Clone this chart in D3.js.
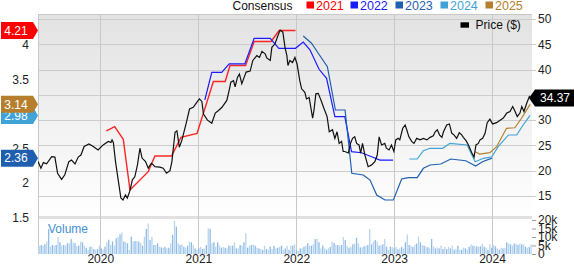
<!DOCTYPE html>
<html>
<head>
<meta charset="utf-8">
<script src="https://cdn.jsdelivr.net/npm/d3@7"></script>
<style>
  body { margin: 0; background: #fff; }
  svg { display: block; font-family: "Liberation Sans", Arial, sans-serif; }
</style>
</head>
<body>
<svg id="chart" width="574" height="265"></svg>
<script>
var parse = d3.timeParse("%Y-%m-%d");

// price ($), right axis
var priceDates = ["2019-05-14","2019-05-25","2019-06-03","2019-06-15","2019-07-04","2019-07-16","2019-07-26","2019-08-10","2019-08-22","2019-09-06","2019-09-16","2019-09-29","2019-10-11","2019-10-21","2019-11-02","2019-11-20","2019-12-06","2019-12-24",
  "2020-01-12","2020-01-31","2020-02-10","2020-02-14","2020-02-19","2020-02-27","2020-03-08","2020-03-18","2020-03-26","2020-04-04","2020-04-11","2020-04-20","2020-04-30","2020-05-09","2020-05-19","2020-05-28","2020-06-05","2020-06-18","2020-06-28","2020-07-10","2020-07-23","2020-08-10","2020-08-23","2020-09-04","2020-09-17","2020-09-24","2020-10-06","2020-10-13","2020-10-22","2020-10-31","2020-11-16","2020-11-29","2020-12-13","2020-12-26",
  "2021-01-05","2021-01-14","2021-01-20","2021-02-04","2021-02-20","2021-03-05","2021-03-17","2021-03-30","2021-04-17","2021-04-27","2021-05-02","2021-05-12","2021-05-18","2021-05-27","2021-06-03","2021-06-12","2021-06-21","2021-06-28","2021-07-13","2021-07-23","2021-08-07","2021-08-17","2021-08-26","2021-09-07","2021-09-13","2021-09-26","2021-10-02","2021-10-14","2021-10-23","2021-11-02","2021-11-12","2021-11-20","2021-11-27","2021-12-01","2021-12-08","2021-12-18","2021-12-27",
  "2022-01-04","2022-01-14","2022-01-21","2022-02-02","2022-02-08","2022-02-18","2022-03-03","2022-03-08","2022-03-15","2022-03-24","2022-04-05","2022-04-14","2022-04-26","2022-05-04","2022-05-16","2022-05-25","2022-06-02","2022-06-10","2022-06-19","2022-06-25","2022-07-01","2022-07-14","2022-07-22","2022-07-30","2022-08-07","2022-08-14","2022-08-23","2022-08-29","2022-09-05","2022-09-14","2022-09-26","2022-10-09","2022-10-21","2022-10-30","2022-11-06","2022-11-15","2022-11-27","2022-12-03","2022-12-13","2022-12-22","2022-12-31",
  "2023-01-07","2023-01-16","2023-01-22","2023-02-02","2023-02-11","2023-02-17","2023-02-25","2023-03-08","2023-03-16","2023-03-26","2023-04-08","2023-04-20","2023-05-03","2023-05-15","2023-05-27","2023-06-03","2023-06-11","2023-06-19","2023-06-28","2023-07-04","2023-07-16","2023-07-26","2023-08-04","2023-08-12","2023-08-22","2023-09-01","2023-09-10","2023-09-16","2023-09-26","2023-10-05","2023-10-17","2023-10-26","2023-11-02","2023-11-11","2023-11-17","2023-11-27","2023-12-06","2023-12-14","2023-12-24",
  "2024-01-03","2024-01-18","2024-01-31","2024-02-12","2024-02-25","2024-03-08","2024-03-18","2024-03-27","2024-04-04","2024-04-14","2024-04-21","2024-04-29","2024-05-09","2024-05-19","2024-05-25"];
var priceValues = [21.8,20.5,21.6,21.35,22.8,22.7,19.5,18.3,19.2,21.8,22.1,21.35,22.7,23.1,24.8,25.3,24.8,24.1,
  25.1,25.8,25.6,26.1,25.6,21.8,18.2,14.6,14.2,15.2,14.6,15.9,18.2,18.8,21.2,24.45,22.5,21.8,20.5,21.5,20.8,20.7,20.5,19.5,20.0,21.7,27.6,27.9,24.65,25.95,29.25,32.2,32.55,33.5,
  34.2,33.7,31.2,30.0,29.4,31.4,31.9,32.55,33.9,36.2,37.5,37.8,36.6,38.5,39.1,37.2,38.5,39.5,39.7,41.8,42.75,42.4,43.6,43.1,42.3,41.8,44.4,45.1,46.5,47.8,47.4,44.4,42.75,40.8,41.8,41.4,42.4,
  41.1,37.8,36.2,35.5,34.2,34.5,30.4,31.9,35.2,35.3,33.7,32.35,30.7,27.7,28.1,26.4,27.7,25.4,25.8,23.8,23.8,23.5,25.4,26.4,26.7,25.4,25.1,23.5,25.4,23.1,20.8,21.15,21.8,23.1,26.7,25.1,25.4,24.45,24.1,25.1,23.8,
  26.1,26.4,26.1,28.4,29.05,28.1,26.7,25.75,25.4,26.4,26.1,26.4,26.1,26.6,26.9,27.7,28.1,27.1,26.6,27.7,29.05,29.25,27.4,27.1,26.4,27.5,27.1,26.6,25.95,25.1,23.6,22.7,25.1,25.4,26.1,26.4,27.4,29.5,30.2,
  29.25,29.5,30.0,30.4,31.4,31.7,32.7,31.7,30.7,31.4,32.7,31.7,33.3,34.65,34.37];

// consensus EPS estimates, left axis
var eps2021Dates = ["2020-01-24","2020-02-24","2020-03-27","2020-04-21","2020-06-28","2020-07-23","2020-09-23","2020-10-28","2020-12-27","2021-02-26","2021-04-11","2021-04-29","2021-06-26","2021-07-28","2021-09-29","2021-10-29","2021-12-29"];
var eps2021Values = [2.754,2.816,2.633,1.899,2.164,2.391,2.391,2.662,2.717,3.471,3.471,3.703,3.703,4.051,4.051,4.21,4.21];
var eps2022Dates = ["2021-01-25","2021-02-20","2021-03-29","2021-04-26","2021-06-23","2021-07-28","2021-09-26","2021-10-28","2021-12-29","2022-01-27","2022-02-21","2022-03-27","2022-04-24","2022-05-25","2022-07-01","2022-07-26","2022-09-01","2022-10-09","2022-11-09","2022-12-28"];
var eps2022Values = [3.203,3.604,3.604,3.725,3.725,4.097,4.097,3.952,3.952,4.043,3.93,3.648,3.517,2.961,2.961,2.454,2.439,2.381,2.333,2.333];
var eps2023Dates = ["2022-01-27","2022-02-27","2022-03-24","2022-04-27","2022-05-27","2022-07-02","2022-07-27","2022-09-08","2022-10-03","2022-10-28","2022-11-28","2022-12-29","2023-01-29","2023-02-23","2023-03-28","2023-04-20","2023-05-15","2023-06-24","2023-07-31","2023-09-25","2023-11-01","2023-11-26","2024-01-01"];
var eps2023Values = [4.13,4.025,3.88,3.686,3.058,3.058,2.141,2.116,2.043,1.826,1.754,1.754,2.058,2.077,2.077,2.213,2.261,2.275,2.348,2.323,2.246,2.309,2.36];
var eps2024Dates = ["2023-02-27","2023-03-28","2023-04-20","2023-05-15","2023-07-01","2023-07-28","2023-09-30","2023-10-30","2023-11-30","2023-12-31","2024-01-24","2024-03-02","2024-04-02","2024-04-26","2024-05-22"];
var eps2024Values = [2.348,2.348,2.468,2.503,2.503,2.575,2.551,2.309,2.358,2.381,2.526,2.696,2.696,2.841,2.98];
var eps2025Dates = ["2023-10-30","2023-11-16","2023-12-24","2024-01-18","2024-02-24","2024-03-26","2024-04-20","2024-05-22"];
var eps2025Values = [2.454,2.42,2.439,2.526,2.793,2.801,2.938,3.14];

var seriesNames = ["2021","2022","2023","2024","2025"];
var seriesColors = ["#ff0000","#1a1aff","#1f5fb0","#3fa3d8","#b57f2e"];
var lastEps = [4.21, null, 2.36, 2.98, 3.14];

// weekly volume, thousands of shares
var volumeStart = "2019-05-13";
var volumeValues = [4.9,5.3,4.9,5.7,7.3,14.7,4.3,5.3,4.9,5.3,10.0,6.9,4.9,5.3,4.9,6.3,6.3,8.8,6.9,
  6.3,4.7,4.9,7.3,6.9,4.9,3.7,2.4,4.3,4.3,2.9,2.4,2.9,4.9,3.3,2.7,4.3,6.9,8.4,
  5.3,7.3,4.9,9.2,10.0,11.6,12.7,7.3,6.9,6.3,2.4,10.2,7.3,7.6,7.6,7.3,6.3,4.9,10.2,
  14.7,18.0,8.2,10.2,5.3,5.3,6.3,4.3,3.9,3.7,4.1,3.3,3.7,6.3,11.2,19.4,16.1,6.3,
  5.3,5.7,4.3,3.7,4.9,7.3,6.9,5.3,3.3,2.4,3.3,4.3,2.9,3.3,5.3,15.1,14.7,6.3,6.9,
  4.3,6.9,4.9,3.7,4.1,3.7,3.3,4.9,4.7,4.9,6.9,3.3,3.3,5.3,4.9,6.9,12.2,3.7,4.9,
  5.3,5.7,4.9,3.7,3.3,2.9,2.4,4.9,2.9,2.4,4.3,2.9,4.9,3.3,3.7,4.1,4.9,2.5,3.3,4.9,
  2.4,4.9,4.9,5.7,2.4,1.8,3.3,3.3,4.3,4.9,6.3,4.9,4.9,5.7,8.8,8.8,6.9,3.3,4.9,
  3.3,2.5,3.3,4.1,7.3,6.5,5.3,5.3,4.9,5.3,10.0,8.2,4.9,3.7,4.3,5.7,6.1,9.6,6.3,
  3.9,3.9,4.5,4.9,5.3,14.7,5.7,7.3,8.2,7.3,4.9,5.3,5.7,8.8,4.3,2.5,4.3,4.1,3.3,
  4.1,2.7,3.3,4.3,3.3,6.9,11.6,5.3,4.9,4.1,5.3,6.1,10.2,6.9,5.3,4.9,4.3,3.9,3.3,
  8.8,4.3,3.3,3.9,3.3,4.9,2.9,4.1,2.9,4.1,3.3,4.9,2.5,2.9,4.9,2.5,2.5,3.7,3.3,
  2.5,4.3,5.7,4.9,4.5,4.5,4.3,4.5,6.1,4.3,3.7,2.4,5.7,3.7,5.3,4.5,3.3,2.5,3.7,
  3.3,3.7,6.9,6.1,5.7,4.9,6.1,6.1,5.3,6.1,5.7,5.7,4.3,3.7,4.1,5.7];

var leftTicks = [1.5, 2, 2.5, 3, 3.5, 4];
var rightTicks = [15, 20, 25, 30, 35, 40, 45, 50];
var volumeTicks = [0, 5, 10, 15, 20];
var yearTicks = ["2020-01-01","2021-01-01","2022-01-01","2023-01-01","2024-01-01"];
var lastPrice = 34.37;

var plotLeft = 38, plotRight = 532, plotTop = 14, priceBottom = 218, volTop = 220, volBottom = 254;

var x = d3.scaleTime()
  .domain([parse("2019-05-14"), parse("2024-05-29")])
  .range([plotLeft, plotRight]);
var yLeft = d3.scaleLinear().domain([1.493, 4.449]).range([priceBottom, plotTop]);
var yRight = d3.scaleLinear().domain([10.65, 50.99]).range([priceBottom, plotTop]);
var yVol = d3.scaleLinear().domain([0, 20]).range([volBottom, volTop]);

var svg = d3.select("#chart");
var defs = svg.append("defs");
var grad = defs.append("linearGradient").attr("id", "bg").attr("x1", 0).attr("y1", 0).attr("x2", 0).attr("y2", 1);
grad.append("stop").attr("offset", "0%").attr("stop-color", "#e2e2e2");
grad.append("stop").attr("offset", "100%").attr("stop-color", "#ffffff");
defs.append("clipPath").attr("id", "clipPrice")
  .append("rect").attr("x", plotLeft).attr("y", plotTop).attr("width", plotRight - plotLeft).attr("height", priceBottom - plotTop);
defs.append("clipPath").attr("id", "clipVol")
  .append("rect").attr("x", plotLeft).attr("y", volTop).attr("width", plotRight - plotLeft).attr("height", volBottom - volTop);

// backgrounds
svg.append("rect").attr("x", plotLeft).attr("y", plotTop).attr("width", plotRight - plotLeft).attr("height", priceBottom - plotTop)
  .attr("fill", "url(#bg)");
svg.append("rect").attr("x", plotLeft).attr("y", 216).attr("width", plotRight - plotLeft).attr("height", 3)
  .attr("fill", "#e1e1e1");

// horizontal grid from right axis
svg.append("g").selectAll("line").data(rightTicks).enter().append("line")
  .attr("x1", plotLeft).attr("x2", plotRight + 4)
  .attr("y1", function(d) { return Math.round(yRight(d)) + 0.5; })
  .attr("y2", function(d) { return Math.round(yRight(d)) + 0.5; })
  .attr("stroke", "#cccccc");

// vertical year grid
svg.append("g").selectAll("line").data(yearTicks).enter().append("line")
  .attr("x1", function(d) { return Math.round(x(parse(d))) + 0.5; })
  .attr("x2", function(d) { return Math.round(x(parse(d))) + 0.5; })
  .attr("y1", plotTop).attr("y2", volBottom)
  .attr("stroke", "#c8c8c8");

// frame
svg.append("line").attr("x1", plotLeft).attr("x2", plotRight).attr("y1", plotTop + 0.5).attr("y2", plotTop + 0.5).attr("stroke", "#c8c8c8");
svg.append("line").attr("x1", plotLeft + 0.5).attr("x2", plotLeft + 0.5).attr("y1", plotTop).attr("y2", volBottom).attr("stroke", "#c8c8c8");

// volume bars
var volDates = d3.timeWeek.range(parse(volumeStart), parse("2024-06-30")).slice(0, volumeValues.length);
svg.append("g").attr("clip-path", "url(#clipVol)")
  .selectAll("rect").data(volumeValues).enter().append("rect")
  .attr("x", function(d, i) { return x(volDates[i]) - 0.7; })
  .attr("width", 1.3)
  .attr("y", function(d) { return yVol(d); })
  .attr("height", function(d) { return yVol(0) - yVol(d); })
  .attr("fill", function(d, i) { return i % 2 ? "#8dbbe6" : "#b9d5f0"; });

svg.append("text").attr("x", 48).attr("y", 233).attr("font-size", 12).attr("fill", "#3f8fd2").text("Volume");

// consensus lines
var epsDates = [eps2021Dates, eps2022Dates, eps2023Dates, eps2024Dates, eps2025Dates];
var epsValues = [eps2021Values, eps2022Values, eps2023Values, eps2024Values, eps2025Values];
var epsLine = d3.line()
  .x(function(d) { return x(d.date); })
  .y(function(d) { return yLeft(d.value); });
var lines = svg.append("g").attr("clip-path", "url(#clipPrice)");
seriesNames.forEach(function(name, k) {
  var pts = epsDates[k].map(function(s, i) { return { date: parse(s), value: epsValues[k][i] }; });
  lines.append("path")
    .attr("d", epsLine(pts))
    .attr("fill", "none")
    .attr("stroke", seriesColors[k])
    .attr("stroke-width", k === 0 ? 1.4 : 1.2)
    .attr("stroke-opacity", k === 0 ? 0.85 : 1);
});

// price line
var pricePts = priceDates.map(function(s, i) { return { date: parse(s), value: priceValues[i] }; });
var priceLine = d3.line()
  .x(function(d) { return x(d.date); })
  .y(function(d) { return yRight(d.value); });
lines.append("path")
  .attr("d", priceLine(pricePts))
  .attr("fill", "none")
  .attr("stroke", "#111")
  .attr("stroke-width", 1.2);

// axes
var leftAxis = d3.axisLeft(yLeft).tickValues(leftTicks).tickSize(0).tickPadding(9)
  .tickFormat(d3.format("~g"));
svg.append("g").attr("transform", "translate(" + plotLeft + ",0)").call(leftAxis)
  .call(function(g) { g.select(".domain").remove(); })
  .selectAll("text").attr("font-size", 12).attr("fill", "#222").attr("font-family", null);

var rightAxis = d3.axisRight(yRight).tickValues(rightTicks).tickSize(0).tickPadding(6);
svg.append("g").attr("transform", "translate(" + plotRight + ",0)").call(rightAxis)
  .call(function(g) { g.select(".domain").remove(); })
  .selectAll("text").attr("font-size", 12).attr("fill", "#222").attr("font-family", null);

var volAxis = d3.axisRight(yVol).tickValues(volumeTicks).tickSize(4).tickPadding(2)
  .tickFormat(function(d) { return d === 0 ? "0" : d + "k"; });
svg.append("g").attr("transform", "translate(" + plotRight + ",0)").call(volAxis)
  .call(function(g) { g.select(".domain").remove(); g.selectAll("line").attr("stroke", "#999"); })
  .selectAll("text").attr("font-size", 12).attr("fill", "#222").attr("font-family", null);

var xAxis = d3.axisBottom(x).tickValues(yearTicks.map(parse)).tickSize(0).tickPadding(0)
  .tickFormat(d3.timeFormat("%Y"));
svg.append("g").attr("transform", "translate(0," + 254 + ")").call(xAxis)
  .call(function(g) { g.select(".domain").remove(); })
  .selectAll("text").attr("font-size", 12).attr("fill", "#222").attr("font-family", null).attr("dy", "0.71em");

// last value flags on the left (drawn so 3.14 sits over 2.98)
var flagOrder = [2, 3, 4, 0];
flagOrder.forEach(function(k) {
  var yy = yLeft(lastEps[k]);
  svg.append("path")
    .attr("d", "M1," + (yy - 8.5) + "H33L38," + yy + "L33," + (yy + 8.5) + "H1Z")
    .attr("fill", seriesColors[k]);
  svg.append("text").attr("x", 16).attr("y", yy).attr("dy", "0.36em")
    .attr("text-anchor", "middle").attr("font-size", 12).attr("fill", "#fff")
    .text(d3.format(".2f")(lastEps[k]));
});

// last price flag on the right
var py = yRight(lastPrice);
svg.append("path")
  .attr("d", "M529," + py + "L535," + (py - 8.5) + "H574V" + (py + 8.5) + "H535Z")
  .attr("fill", "#000");
svg.append("text").attr("x", 555).attr("y", py).attr("dy", "0.36em").attr("text-anchor", "middle")
  .attr("font-size", 12).attr("fill", "#fff").text(d3.format(".2f")(lastPrice));

// legend
svg.append("text").attr("x", 232.5).attr("y", 10).attr("font-size", 12).attr("fill", "#111").text("Consensus");
var legX = [306.5, 350.5, 395.5, 440.5, 485.5];
seriesNames.forEach(function(name, k) {
  svg.append("rect").attr("x", legX[k]).attr("y", 1.5).attr("width", 7.5).attr("height", 7)
    .attr("fill", seriesColors[k]);
  svg.append("text").attr("x", legX[k] + 9.5).attr("y", 10).attr("font-size", 12.5)
    .attr("fill", seriesColors[k]).text(name);
});
svg.append("rect").attr("x", 460.5).attr("y", 22.3).attr("width", 8.5).attr("height", 5.4).attr("fill", "#000");
svg.append("text").attr("x", 475.5).attr("y", 29).attr("font-size", 12).attr("fill", "#111").text("Price ($)");
</script>
</body>
</html>
